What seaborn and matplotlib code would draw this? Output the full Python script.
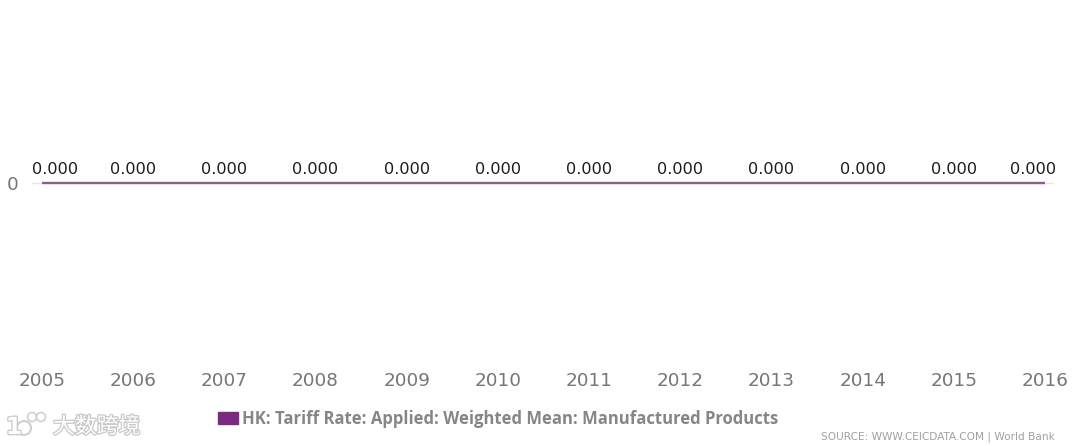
import matplotlib
matplotlib.use("Agg")
import matplotlib.pyplot as plt
import matplotlib.patheffects as pe
from matplotlib.patches import Patch, Circle
import pandas as pd
import seaborn as sns

years = [2005, 2006, 2007, 2008, 2009, 2010, 2011, 2012, 2013, 2014, 2015, 2016]
tariff_rate = [0.0, 0.0, 0.0, 0.0, 0.0, 0.0, 0.0, 0.0, 0.0, 0.0, 0.0, 0.0]
series_name = "HK: Tariff Rate: Applied: Weighted Mean: Manufactured Products"
source_text = "SOURCE: WWW.CEICDATA.COM | World Bank"
watermark = "大数跨境"

W, H = 1080, 446
PURPLE = "#7b2a83"

sns.set_theme(style="white")
plt.rcParams["font.family"] = ["DejaVu Sans", "Noto Sans CJK SC"]

df = pd.DataFrame({"year": years, "rate": tariff_rate})

fig = plt.figure(figsize=(W / 100, H / 100), dpi=100, facecolor="white")
ax = fig.add_axes([32 / W, (H - 365) / H, (1054 - 32) / W, 364 / H])

sns.lineplot(data=df, x="year", y="rate", color="#8a5f8e", linewidth=1.7, ax=ax,
             solid_capstyle="butt", zorder=3)

# one year is about 91.3 px wide
ax.set_xlim(2005 - 10 / 91.3, 2016 + 9 / 91.3)
ax.set_ylim(-1, 1)
sns.despine(ax=ax, left=True, bottom=True, top=True, right=True)
ax.axhline(0, color="#e6e6e6", linewidth=1, zorder=1)

ax.set_xlabel("")
ax.set_ylabel("")
ax.set_xticks(years)
ax.set_xticklabels([str(y) for y in years], fontsize=13.2, color="#767676")
ax.set_yticks([0])
ax.set_yticklabels(["0"], fontsize=13.2, color="#767676")
ax.tick_params(axis="x", length=0, pad=5)
ax.tick_params(axis="y", length=0, pad=10)

# value labels, the outer two are pushed inside the plot
for i, (yr, val) in enumerate(zip(years, tariff_rate)):
    shift = 13 if i == 0 else (-12 if i == len(years) - 1 else 0)
    ax.annotate(f"{val:.3f}", (yr, val), xytext=(shift * 0.72, 4.2),
                textcoords="offset points", ha="center", va="bottom",
                fontsize=11.6, color="#1c1c1c", annotation_clip=False)

handle = Patch(facecolor=PURPLE, edgecolor=PURPLE)
fig.legend(handles=[handle], labels=[series_name], loc="center left",
           bbox_to_anchor=(218 / W, (H - 419) / H), frameon=False, handlelength=1.2,
           handleheight=0.75, handletextpad=0.25, borderpad=0, borderaxespad=0,
           prop={"family": "Open Sans", "size": 12, "weight": "bold"},
           labelcolor="#868686")

fig.text(1055 / W, (H - 437) / H, source_text, ha="right", va="center",
         fontsize=7.55, color="#a0a0a0")

# watermark at lower left
halo = [pe.withStroke(linewidth=1.8, foreground="#c8c8c8")]
fig.text(53 / W, (H - 427) / H, watermark, ha="left", va="center", fontsize=15.7,
         color="white", family=["Noto Sans CJK SC", "DejaVu Sans"], path_effects=halo)
fig.text(14 / W, (H - 427) / H, "1", ha="center", va="center", fontsize=17,
         weight="bold", color="white", path_effects=halo)
fig.add_artist(Circle((24, H - 428), 7, transform=None, fill=False,
                      edgecolor="#cfcfcf", linewidth=1.5))
for px, py, r in [(32, 417, 4.5), (41, 417, 4.5)]:
    fig.add_artist(Circle((px, H - py), r, transform=None, fill=False,
                          edgecolor="#cfcfcf", linewidth=1.2))

fig.savefig("out.png", dpi=100, facecolor="white")
